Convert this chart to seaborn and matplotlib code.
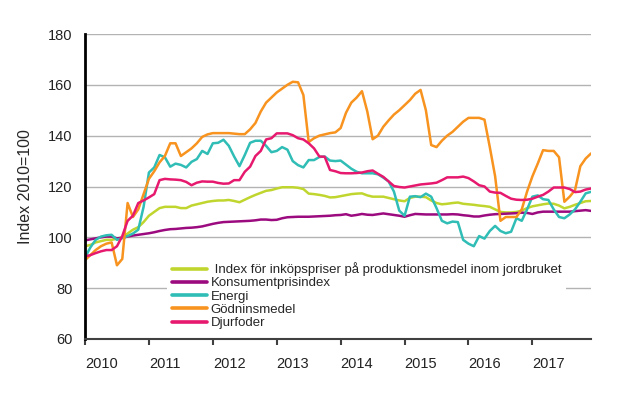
import numpy as np
import pandas as pd
import matplotlib
matplotlib.use("Agg")
import matplotlib.pyplot as plt
import matplotlib.transforms as mtransforms
import seaborn as sns

# ---- data (monthly, Jan 2010 - Dec 2017) ----
years = ["2010", "2011", "2012", "2013", "2014", "2015", "2016", "2017"]
series_names = [" Index för inköpspriser på produktionsmedel inom jordbruket",
                "Konsumentprisindex", "Energi", "Gödninsmedel", "Djurfoder"]

index_total = [96.5, 97, 98, 98.5, 99, 99, 99.5, 100, 101.5, 103, 104, 106, 108.5, 110, 111.5, 112, 112, 112, 111.5, 111.5, 112.5, 113, 113.5, 114, 114.3,
               114.5, 114.5, 114.7, 114.3, 113.8, 114.8, 115.8, 116.7, 117.5, 118.3, 118.6, 119.2, 119.7, 119.7, 119.7, 119.5, 119, 117.2, 117, 116.7, 116.3, 115.7, 115.8, 116.2,
               116.6, 117, 117.2, 117.3, 116.5, 116, 116, 116, 115.5, 115, 114.5, 114.2, 115.5, 116, 116, 115.8, 114.5, 113.5, 113, 113.2, 113.5, 113.7, 113.2,
               113, 112.8, 112.5, 112.3, 112, 111, 110, 109.8, 109.8, 110, 110.5, 111.5, 112.2, 112.6, 113, 113.3, 113.2, 112.5, 111.4, 112, 112.8, 113.5, 114.2, 114.3]
kpi = [98.8, 99.2, 99.6, 100, 100.3, 100.3, 99.6, 99.8, 100.3, 100.7, 101, 101.3, 101.6, 102, 102.5, 102.9, 103.2, 103.3, 103.5, 103.7, 103.8, 104, 104.3, 104.8, 105.3,
       105.7, 106, 106.1, 106.2, 106.3, 106.4, 106.5, 106.7, 107, 107, 106.8, 106.9, 107.5, 107.9, 108, 108.1, 108.1, 108.1, 108.2, 108.3, 108.4, 108.5, 108.7, 108.8,
       109.1, 108.5, 108.8, 109.2, 108.9, 108.8, 109.1, 109.4, 109.1, 108.8, 108.5, 108.1, 108.7, 109.2, 109.1, 109, 109, 109, 109, 109, 109.1, 109, 108.7,
       108.5, 108.2, 108.2, 108.6, 108.9, 109.1, 109.2, 109.3, 109.4, 109.5, 109.7, 109.6, 109.2, 109.8, 110.1, 110.1, 110.1, 110.1, 110.1, 110.1, 110.3, 110.5, 110.7, 110.4]
energi = [92, 96, 99, 100.3, 100.8, 101, 99, 99.7, 100.5, 101.5, 103, 112, 125.5, 127.5, 132.4, 131.5, 127.8, 129, 128.5, 127.5, 129.7, 130.8, 134, 132.8, 137,
          137.2, 138.4, 136, 131.8, 128, 132.4, 137.2, 138, 138, 136, 133.5, 134, 135.5, 134.5, 130, 128.4, 127.5, 130.4, 130.4, 131.6, 131.8, 130.2, 130, 130.2,
          128.6, 127, 125.8, 125.2, 125.2, 125.2, 124.8, 123.5, 122, 118, 110.5, 108.5, 116, 116.2, 115.8, 117.2, 116, 111.5, 106.5, 105.5, 106.2, 106, 99,
          97.5, 96.5, 100.5, 99.5, 102.5, 104.5, 102.5, 101.6, 102.2, 107.5, 106.5, 111, 116, 116.5, 115, 114.7, 111, 108, 107.5, 109, 111, 114, 117.3, 117.9]
godning = [91, 93, 95, 96.5, 97.5, 98, 89, 91.5, 113.5, 108, 111, 117, 123, 126, 129.5, 132, 137, 137, 132, 133.5, 135, 137, 139.5, 140.5, 141,
           141, 141, 141, 140.8, 140.6, 140.6, 142.5, 145, 149.5, 153, 155, 157, 158.5, 160, 161.2, 161, 156, 137.5, 139, 140, 140.5, 141, 141.3, 143,
           149, 153, 155, 157.5, 149.5, 138.6, 140, 143.5, 146, 148.3, 150, 152, 154, 156.5, 158, 150, 136.3, 135.5, 138, 140, 141.5, 143.5, 145.5,
           147, 147, 147, 146.3, 135.5, 124, 106.5, 108, 108, 108, 111, 118, 124, 129, 134.3, 134, 134, 131.5, 114, 116, 118.6, 128, 131, 133]
djurfoder = [92.5, 93, 93.8, 94.5, 95, 95, 96.5, 100.5, 106.5, 108.5, 113.5, 114.5, 115.7, 117, 122.5, 123, 122.8, 122.7, 122.5, 121.8, 120.5, 121.5, 122, 121.9, 121.9,
             121.4, 121.1, 121.2, 122.5, 122.5, 125.8, 127.8, 132, 134, 138.5, 139, 140.9, 140.9, 140.9, 140.2, 139, 138.5, 137, 135, 131.8, 131.7, 126.5, 126, 125.3,
             125.2, 125.2, 125.3, 125.5, 126, 126.3, 125, 123.8, 122, 120.2, 119.8, 119.6, 120, 120.4, 120.8, 121, 121.2, 121.5, 122.5, 123.6, 123.6, 123.6, 123.9,
             123.3, 122, 120.5, 120, 118, 117.6, 117.5, 116.3, 115.2, 114.8, 114.7, 114.8, 115.2, 116, 116.7, 118, 119.6, 119.6, 119.6, 119, 117.8, 118, 118.8, 119.2]

colors = ["#c0d62e", "#9c0a7f", "#2fbdb6", "#f7931e", "#e6196e"]

months = np.arange(len(kpi))
all_vals = [index_total, kpi, energi, godning, djurfoder]
df = pd.concat([pd.DataFrame({"month": months, "value": v, "series": n})
                for n, v in zip(series_names, all_vals)], ignore_index=True)

sns.set_style("white")
plt.rcParams["font.family"] = ["Liberation Sans", "DejaVu Sans"]

fig = plt.figure(figsize=(6.18, 4.13), dpi=100)
ax = fig.add_axes([85/618, 1-339/413, (591-85)/618, (339-34)/413])

sns.lineplot(data=df, x="month", y="value", hue="series", hue_order=series_names,
             palette=colors, linewidth=1.8, ax=ax, legend=False)

ax.set_xlim(0, 95)
ax.set_ylim(60, 180)
ax.set_yticks(np.arange(60, 181, 20))
ax.yaxis.grid(True, color="#b3b3b3", linewidth=1.0)
ax.set_axisbelow(True)
ax.tick_params(axis="y", length=0, pad=9, labelsize=10.5, labelcolor="#222222")
ax.set_xticks(np.arange(0, 96, 12))
ax.set_xticklabels(years, ha="left")
offset = mtransforms.ScaledTranslation(-3/100, 0, fig.dpi_scale_trans)
for lbl in ax.get_xticklabels():
    lbl.set_transform(lbl.get_transform() + offset)
ax.tick_params(axis="x", length=4, width=1.5, color="#404040", direction="out",
               pad=9, labelsize=10.5, labelcolor="#222222", bottom=True)
ax.set_xlabel("")
ax.set_ylabel("Index 2010=100", fontsize=11.5)
ax.yaxis.set_label_coords(-0.103, 0.5)
for s in ["top", "right"]:
    ax.spines[s].set_visible(False)
ax.spines["left"].set_color("black")
ax.spines["left"].set_linewidth(2)
ax.spines["bottom"].set_color("#404040")
ax.spines["bottom"].set_linewidth(1.5)

handles = [plt.Line2D([], [], color=c, linewidth=2.6) for c in colors]
leg = ax.legend(handles, series_names, loc="upper left",
                bbox_to_anchor=(167/618, 1-257/413), bbox_transform=fig.transFigure,
                frameon=True, fontsize=9.5, handlelength=2.65, handletextpad=0.25,
                labelspacing=0.08, borderpad=0.4, borderaxespad=0)
leg.get_frame().set_facecolor("white")
leg.get_frame().set_edgecolor("none")
leg.get_frame().set_alpha(1)

fig.savefig("out.png", dpi=100)
